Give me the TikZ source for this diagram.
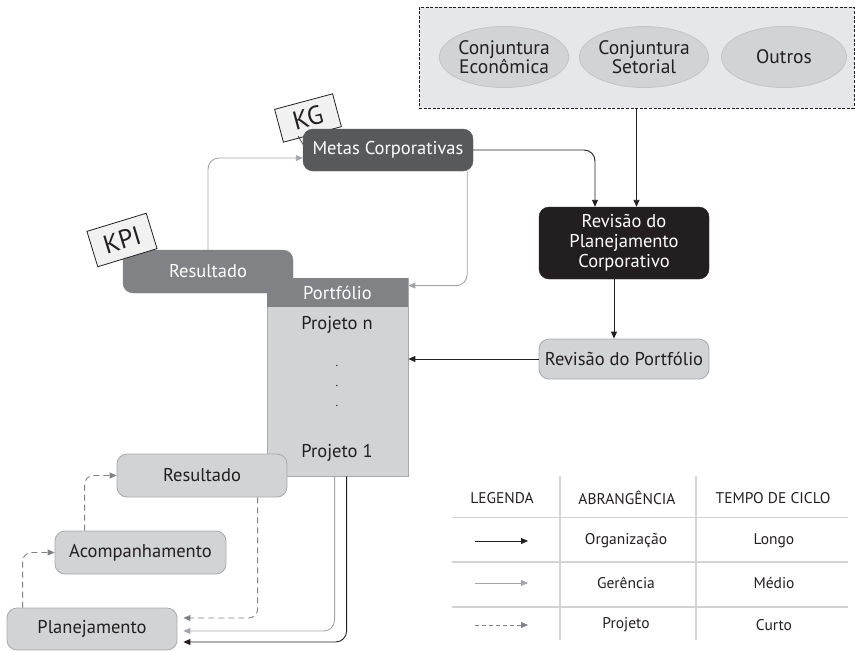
\documentclass[tikz,border=0pt]{standalone}
\usepackage{fontspec}
\setmainfont{PT Sans}
\usetikzlibrary{arrows.meta,calc,shapes.geometric}
\definecolor{dkgray}{HTML}{58595B}
\definecolor{mdgray}{HTML}{808285}
\definecolor{ltgray}{HTML}{D1D3D4}
\definecolor{bdgray}{HTML}{A7A9AC}
\definecolor{bggray}{HTML}{E6E7E8}
\definecolor{arrgray}{HTML}{A3A5A8}
\definecolor{dashgray}{HTML}{808285}
\definecolor{nearblack}{HTML}{231F20}
\definecolor{taggray}{HTML}{F1F1F1}
\tikzset{
  box/.style={rectangle, rounded corners=10pt, inner sep=0pt, align=center,
    font=\fontsize{18.5}{21}\selectfont},
  darkbox/.style={box, fill=dkgray, draw=dkgray, text=white},
  midbox/.style={box, fill=mdgray, draw=mdgray, text=white},
  blackbox/.style={box, fill=nearblack, draw=nearblack, text=white},
  lightbox/.style={box, fill=ltgray, draw=bdgray, line width=0.8pt, text=nearblack},
  oval/.style={ellipse, fill=ltgray, draw=bdgray!70, line width=0.8pt, inner sep=0pt,
    minimum width=125pt, minimum height=61pt, align=center,
    font=\fontsize{19.5}{18.5}\selectfont, text=nearblack},
  tag/.style={rectangle, fill=taggray, draw=nearblack, line width=0.8pt, inner sep=0pt,
    font=\fontsize{26}{26}\selectfont, text=nearblack},
  blk/.style={draw=nearblack, line width=0.9pt, -{Triangle[length=7pt,width=6pt]}, rounded corners=11pt},
  gry/.style={draw=arrgray, line width=0.9pt, -{Triangle[length=7pt,width=6pt]}, rounded corners=11pt},
  dsh/.style={draw=dashgray, line width=0.9pt, dash pattern=on 6pt off 4pt,
    -{Triangle[length=7pt,width=6pt]}, rounded corners=9pt},
  legtxt/.style={inner sep=0pt, font=\fontsize{15.5}{15.5}\selectfont, text=nearblack},
  legline/.style={draw=ltgray, line width=1.3pt},
  ptxt/.style={inner sep=0pt, font=\fontsize{18.5}{18.5}\selectfont, text=nearblack},
}
\begin{document}
\begin{tikzpicture}[x=1pt,y=-1pt]
\useasboundingbox (0,0) rectangle (855,651);

% external factors
\node[rectangle, fill=bggray, draw=nearblack, line width=0.9pt, dash pattern=on 3pt off 1.6pt,
  minimum width=435pt, minimum height=101pt, inner sep=0pt] (ext) at (636.5,57.5) {};
\node[oval] (e1) at (504,57) {Conjuntura\\Econômica};
\node[oval] (e2) at (644,57) {Conjuntura\\Setorial};
\node[oval] (e3) at (784,57) {Outros};

% portfolio
\node[rectangle, fill=ltgray, draw=bdgray, line width=0.8pt, minimum width=141pt,
  minimum height=198pt, inner sep=0pt] (portf) at (337.5,377) {};
\node[rectangle, fill=mdgray, minimum width=141pt, minimum height=29pt, inner sep=0pt,
  text=white, font=\fontsize{18.5}{18.5}\selectfont] (phead) at (337.5,292.5) {Portfólio};
\node[ptxt] (pn) at (337,325) {Projeto n};
\node[ptxt, font=\fontsize{12}{12}\selectfont] (d1) at (337,366) {.};
\node[ptxt, font=\fontsize{12}{12}\selectfont] (d2) at (337,386) {.};
\node[ptxt, font=\fontsize{12}{12}\selectfont] (d3) at (337,406) {.};
\node[ptxt] (p1) at (337,453) {Projeto 1};

% tags and corporate nodes
\node[tag, rotate=15, minimum width=60pt, minimum height=34pt] (kg) at (308,118) {KG};
\coordinate (kgfoot) at (298,136);
\coordinate (kgtail) at (304,146);
\draw[nearblack, line width=0.6pt] (kgfoot) -- (kgtail);
\node[darkbox, minimum width=170pt, minimum height=42pt] (metas) at (388,150) {Metas Corporativas};
\node[midbox, minimum width=170pt, minimum height=43pt] (res1) at (208,271.5) {Resultado};
\node[tag, rotate=17, minimum width=62pt, minimum height=37pt] (kpi) at (122,240) {KPI};

\node[blackbox, minimum width=170pt, minimum height=72pt, font=\fontsize{18.5}{20}\selectfont]
  (rpc) at (624,243) {Revisão do\\Planejamento\\Corporativo};
\node[lightbox, minimum width=170pt, minimum height=40pt] (rport) at (624,359) {Revisão do Portfólio};

% project nodes
\node[lightbox, minimum width=170pt, minimum height=43pt] (res2) at (202,475.5) {Resultado};
\node[lightbox, minimum width=171pt, minimum height=43pt] (acomp) at (140.5,552.5) {Acompanhamento};
\node[lightbox, minimum width=170pt, minimum height=42pt] (plan) at (92,629) {Planejamento};

% connectors
\draw[blk] (metas.east) -| ($(rpc.north)+(-29,0)$);
\draw[blk] (ext.south) -- (ext.south |- rpc.north);
\draw[blk] ($(rpc.south)+(-10,0)$) -- ($(rport.north)+(-10,0)$);
\draw[blk] (rport.west) -- (portf.east |- rport.west);
\draw[gry] ($(metas.south east)+(-6,0)$) |- ($(portf.north east)+(0,8)$);
\draw[gry] (res1.north) |- ($(metas.west)+(0,8)$);
\draw[dsh] ($(plan.north west)+(16,0)$) |- (acomp.west);
\draw[dsh] ($(acomp.north west)+(30,0)$) |- (res2.west);
\draw[dsh] ($(res2.south west)+(141,0)$) |- ($(plan.east)+(6,-11)$);
\draw[gry] ($(portf.south west)+(68,0)$) |- ($(plan.east)+(6,2)$);
\draw[blk] ($(portf.south west)+(80,0)$) |- ($(plan.east)+(6,13)$);

% legend
\coordinate (hl1a) at (452,517.5); \coordinate (hl1b) at (848,517.5);
\coordinate (hl2a) at (452,562);   \coordinate (hl2b) at (848,562);
\coordinate (hl3a) at (452,607);   \coordinate (hl3b) at (848,607);
\coordinate (vl1a) at (560,476);   \coordinate (vl1b) at (560,640);
\coordinate (vl2a) at (696,476);   \coordinate (vl2b) at (696,640);
\draw[legline] (hl1a) -- (hl1b);
\draw[legline] (hl2a) -- (hl2b);
\draw[legline] (hl3a) -- (hl3b);
\draw[legline] (vl1a) -- (vl1b);
\draw[legline] (vl2a) -- (vl2b);
\node[legtxt] (lh1) at (502,498) {LEGENDA};
\node[legtxt] (lh2) at (627,498) {ABRANGÊNCIA};
\node[legtxt] (lh3) at (773,498) {TEMPO DE CICLO};
\node[legtxt] (la) at (626,541) {Organização};
\node[legtxt] (lb) at (626,583) {Gerência};
\node[legtxt] (lc) at (626,625) {Projeto};
\node[legtxt] (ta) at (774,541) {Longo};
\node[legtxt] (tb) at (774,583) {Médio};
\node[legtxt] (tc) at (774,625) {Curto};
\coordinate (a1s) at (475,541); \coordinate (a1e) at (528,541);
\coordinate (a2s) at (475,583); \coordinate (a2e) at (528,583);
\coordinate (a3s) at (475,625); \coordinate (a3e) at (528,625);
\draw[blk] (a1s) -- (a1e);
\draw[gry] (a2s) -- (a2e);
\draw[dsh, dash pattern=on 4pt off 3pt] (a3s) -- (a3e);
\end{tikzpicture}
\end{document}
